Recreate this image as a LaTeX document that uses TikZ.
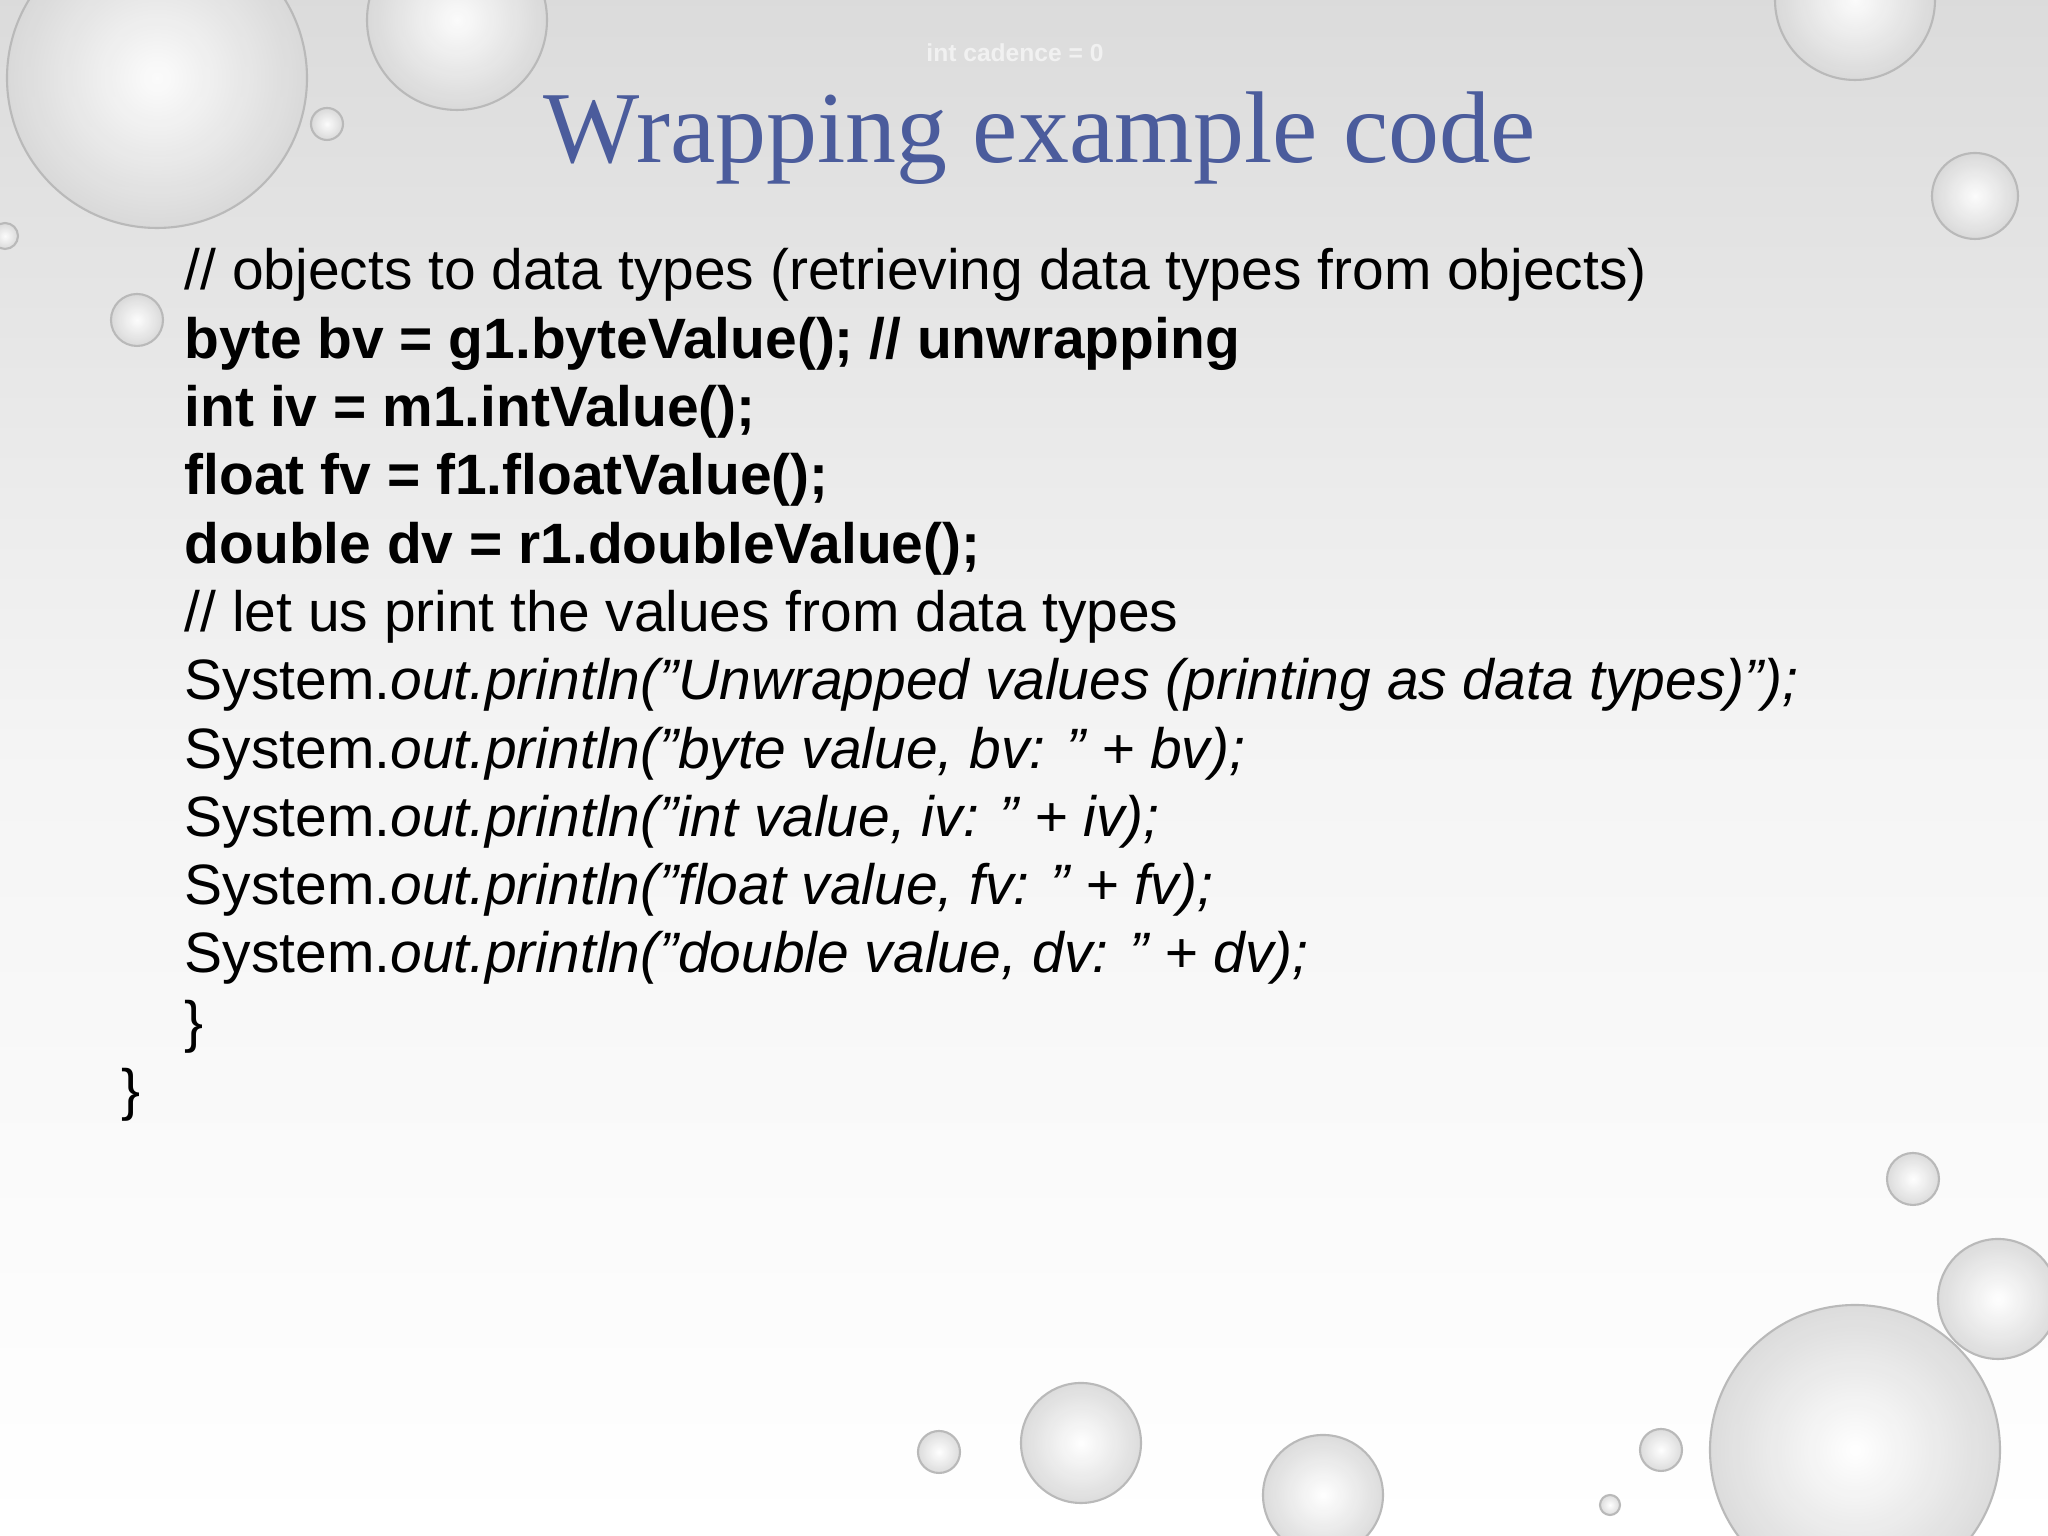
\documentclass[tikz,border=0pt]{standalone}
\usepackage{fontspec}
\setmainfont[Ligatures=NoCommon]{Liberation Sans}
\newfontfamily\titlefont{Liberation Serif}
\definecolor{titleblue}{HTML}{4B5C9C}
\newcommand{\q}{\char"22\relax}
\tikzset{codeline/.style={anchor=base west,inner sep=0pt,font=\fontsize{16.2}{19}\selectfont,text=black},
boldline/.style={codeline,font=\bfseries\fontsize{16.2}{19}\selectfont},
bubble/.style={draw=gray!55,line width=0.6pt,inner color=white,outer color=gray!30,fill opacity=0.9}}
\begin{document}
\begin{tikzpicture}
\useasboundingbox (0,0) rectangle (20.48,15.36);
\shade[top color=gray!28,bottom color=white,middle color=gray!8] (0,0) rectangle (20.48,15.36);
\foreach \x/\y/\r in {1.57/14.58/1.5,4.57/15.16/0.9,3.27/14.12/0.16,1.37/12.16/0.26,18.55/15.36/0.8,19.75/13.4/0.43,0.05/13.0/0.13,19.13/3.57/0.26,19.98/2.37/0.6,18.55/0.86/1.45,10.81/0.93/0.6,13.23/0.41/0.6,9.39/0.84/0.21,16.61/0.86/0.21,16.1/0.31/0.1}
  \shade[bubble] (\x,\y) circle (\r);
\node[font=\bfseries\fontsize{7}{8}\selectfont,text=white,opacity=0.6] (hid) at (10.15,14.83) {int cadence = 0};
\node[font=\titlefont\fontsize{29}{32}\selectfont,text=titleblue,anchor=base] (title) at (10.4,13.73) {Wrapping example code};
\node[codeline] (l1) at (1.84,12.46) {// objects to data types (retrieving data types from objects)};
\node[boldline] (l2) at (1.84,11.777) {byte bv = g1.byteValue(); // unwrapping};
\node[boldline] (l3) at (1.84,11.094) {int iv = m1.intValue();};
\node[boldline] (l4) at (1.84,10.411) {float fv = f1.floatValue();};
\node[boldline] (l5) at (1.84,9.728) {double dv = r1.doubleValue();};
\node[codeline] (l6) at (1.84,9.045) {// let us print the values from data types};
\node[codeline] (l7) at (1.84,8.362) {System.\textit{out.println(\q Unwrapped values (printing as data types)\q);}};
\node[codeline] (l8) at (1.84,7.679) {System.\textit{out.println(\q byte value, bv: \q\ + bv);}};
\node[codeline] (l9) at (1.84,6.996) {System.\textit{out.println(\q int value, iv: \q\ + iv);}};
\node[codeline] (l10) at (1.84,6.313) {System.\textit{out.println(\q float value, fv: \q\ + fv);}};
\node[codeline] (l11) at (1.84,5.630) {System.\textit{out.println(\q double value, dv: \q\ + dv);}};
\node[codeline] (l12) at (1.84,4.947) {\}};
\node[codeline] (l13) at (1.21,4.264) {\}};
\end{tikzpicture}
\end{document}
